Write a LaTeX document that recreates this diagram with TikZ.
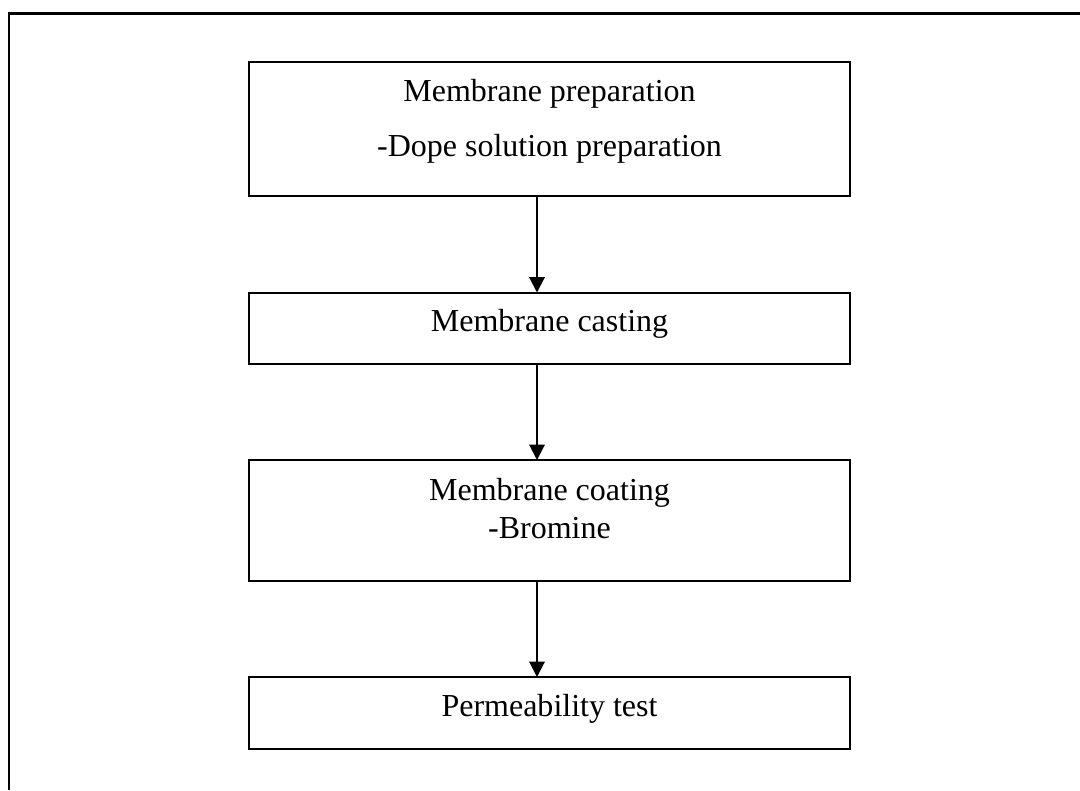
\documentclass[tikz,border=0pt]{standalone}
\usepackage{fontspec}
\setmainfont{Liberation Serif}
\usetikzlibrary{arrows.meta}
\begin{document}
\begin{tikzpicture}[x=0.75pt,y=-0.75pt,
  stepbox/.style={draw=black,line width=1.5pt,rectangle,inner sep=0pt,outer sep=0pt,minimum width=450.75pt},
  lbl/.style={anchor=base,inner sep=0pt,font=\fontsize{24}{28}\selectfont},
  arr/.style={line width=1.5pt,-{Triangle[length=11.5pt,width=11.5pt]}},
  frame/.style={line width=1.6pt}]
\useasboundingbox (0,0) rectangle (1080,790);
\coordinate (fa) at (1080,13.5);
\coordinate (fb) at (9,13.5);
\coordinate (fc) at (9,790);
\draw[frame] (fa) -- (fb) -- (fc);
\node[stepbox,minimum height=100.875pt] (b1) at (549.5,128.75) {};
\node[stepbox,minimum height=53.625pt] (b2) at (549.5,328.25) {};
\node[stepbox,minimum height=90.75pt] (b3) at (549.5,520.5) {};
\node[stepbox,minimum height=54pt] (b4) at (549.5,713) {};
\node[lbl] (t1a) at (549.5,101.7) {Membrane preparation};
\node[lbl] (t1b) at (549.5,156.7) {-Dope solution preparation};
\node[lbl] (t2) at (549.5,331.7) {Membrane casting};
\node[lbl] (t3a) at (549.5,500.7) {Membrane coating};
\node[lbl] (t3b) at (549.5,538) {-Bromine};
\node[lbl] (t4) at (549.5,716.7) {Permeability test};
\coordinate (ax) at (537,0);
\draw[arr] (b1.south -| ax) -- (b2.north -| ax);
\draw[arr] (b2.south -| ax) -- (b3.north -| ax);
\draw[arr] (b3.south -| ax) -- (b4.north -| ax);
\end{tikzpicture}
\end{document}
